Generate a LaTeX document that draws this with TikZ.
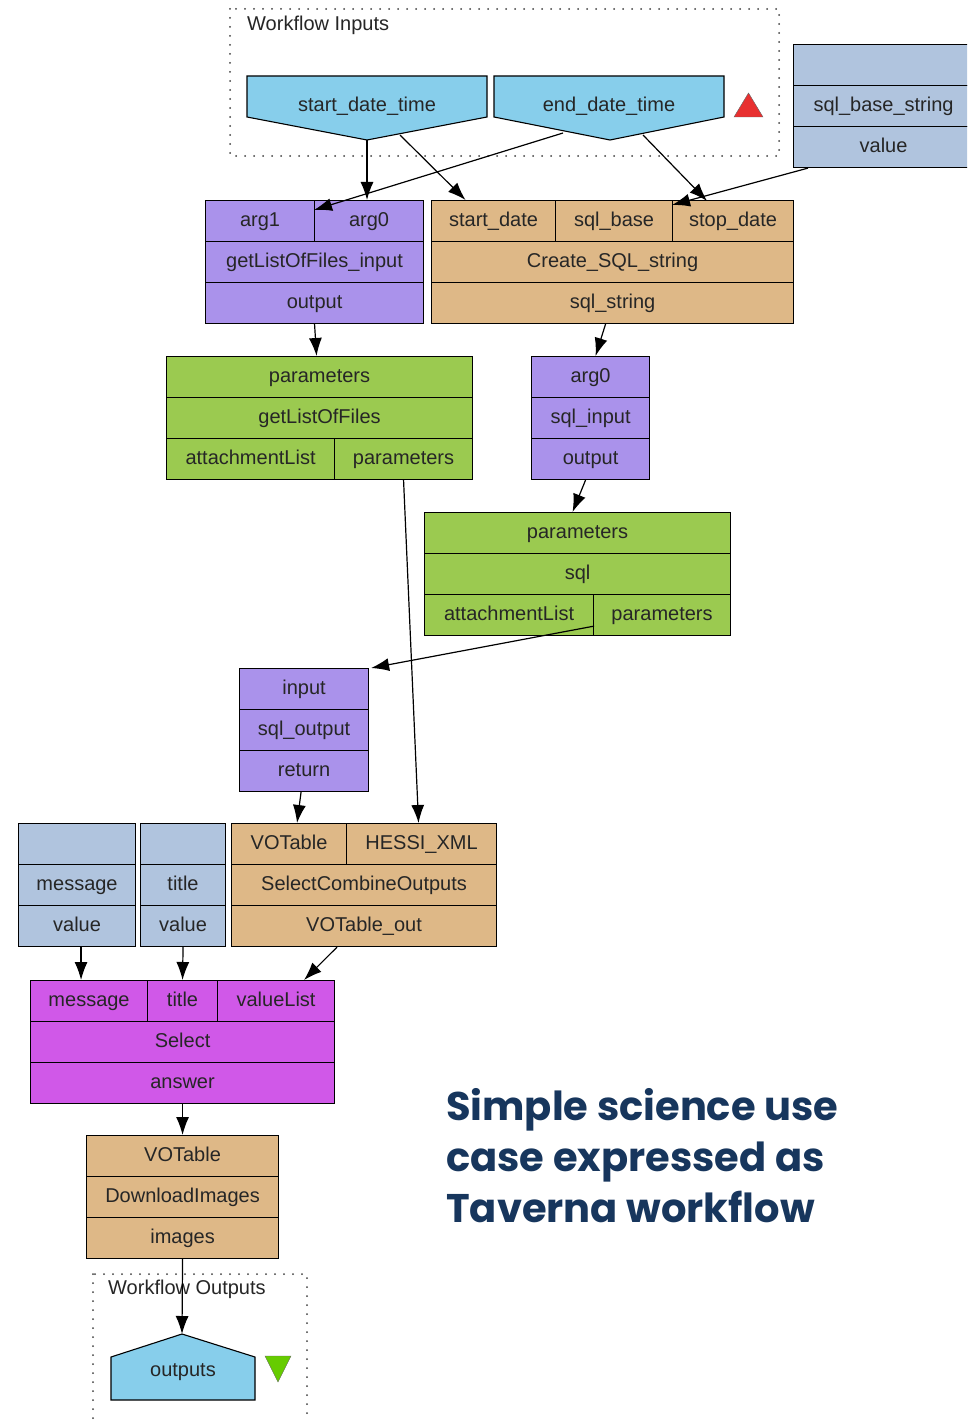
\documentclass[tikz,border=0pt]{standalone}
\usepackage{fontspec}
\setmainfont{Liberation Sans}
\newfontfamily\titlefont{Poppins}
\usetikzlibrary{positioning, arrows.meta}

\definecolor{wfblue}{RGB}{135,206,235}
\definecolor{wfpurple}{RGB}{170,146,235}
\definecolor{wftan}{RGB}{222,184,135}
\definecolor{wfgreen}{RGB}{155,202,80}
\definecolor{wfsteel}{RGB}{176,196,222}
\definecolor{wfmagenta}{RGB}{208,88,232}
\definecolor{wfred}{RGB}{232,48,48}
\definecolor{wflime}{RGB}{102,204,0}
\definecolor{wftitle}{RGB}{23,54,93}

\begin{document}
\begin{tikzpicture}[x=1pt, y=-1pt, >={Latex[length=18pt,width=13pt]},
        cell/.style       = {draw, line width=1.1pt, anchor=north west, minimum height=41pt, inner sep=0pt,
                             text height=15pt, text depth=4pt,
                             text=black!85, font=\fontsize{20}{24}\selectfont},
        tan box/.style    = {cell, fill=wftan},
        purple box/.style = {cell, fill=wfpurple},
        green box/.style  = {cell, fill=wfgreen},
        steel box/.style  = {cell, fill=wfsteel},
        select box/.style = {cell, fill=wfmagenta},
        port/.style       = {draw, line width=1.1pt, fill=wfblue},
        port label/.style = {text=black!85, font=\fontsize{20}{24}\selectfont},
        group/.style      = {draw=black!75, line width=2pt, line cap=round, dash pattern=on 0pt off 9pt},
        link/.style       = {->, line width=1.2pt}]

    \clip (0,0) rectangle (967,1420);
    \fill[white] (0,0) rectangle (967,1420);

    % workflow inputs
    \draw[group] (230,9) rectangle (779,156);
    \node[port label, anchor=west, inner sep=0pt] (wf-in) at (247,25) {Workflow Inputs};
    \draw[port] (247,76) -- (487,76) -- (487,117) -- (367,140) -- (247,117) -- cycle;
    \draw[port] (494,76) -- (724,76) -- (724,117) -- (610,140) -- (494,117) -- cycle;
    \node[port label] (sdt) at (367,106) {start\_date\_time};
    \node[port label] (edt) at (609,106) {end\_date\_time};
    \fill[wfred, draw=black!60, line width=0.4pt] (734,117) -- (763,117) -- (748.5,93) -- cycle;
    \coordinate (sdt-tip) at (367,140);
    \coordinate (sdt-r) at (400,135);
    \coordinate (edt-l) at (563,133);
    \coordinate (edt-r) at (643,135);

    % sql base string constant
    \node[steel box, minimum width=180pt] (sb-top) at (793,44) {};
    \node[steel box, minimum width=180pt] (sb-name) at (793,85) {sql\_base\_string};
    \node[steel box, minimum width=180pt] (sb-val) at (793,126) {value};

    % getListOfFiles_input
    \node[purple box, minimum width=109pt] (gi-a1) at (205,200) {arg1};
    \node[purple box, minimum width=109pt] (gi-a0) at (314,200) {arg0};
    \node[purple box, minimum width=218pt] (gi-name) at (205,241) {getListOfFiles\_input};
    \node[purple box, minimum width=218pt] (gi-out) at (205,282) {output};

    % Create_SQL_string
    \node[tan box, minimum width=124pt] (cs-sd) at (431,200) {start\_date};
    \node[tan box, minimum width=117pt] (cs-sb) at (555,200) {sql\_base};
    \node[tan box, minimum width=121pt] (cs-st) at (672,200) {stop\_date};
    \node[tan box, minimum width=362pt] (cs-name) at (431,241) {Create\_SQL\_string};
    \node[tan box, minimum width=362pt] (cs-out) at (431,282) {sql\_string};

    % getListOfFiles
    \node[green box, minimum width=306pt] (gl-par) at (166,356) {parameters};
    \node[green box, minimum width=306pt] (gl-name) at (166,397) {getListOfFiles};
    \node[green box, minimum width=168pt] (gl-att) at (166,438) {attachmentList};
    \node[green box, minimum width=138pt] (gl-out) at (334,438) {parameters};

    % sql_input
    \node[purple box, minimum width=118pt] (si-in) at (531,356) {arg0};
    \node[purple box, minimum width=118pt] (si-name) at (531,397) {sql\_input};
    \node[purple box, minimum width=118pt] (si-out) at (531,438) {output};

    % sql
    \node[green box, minimum width=306pt] (sq-par) at (424,512) {parameters};
    \node[green box, minimum width=306pt] (sq-name) at (424,553) {sql};
    \node[green box, minimum width=169pt] (sq-att) at (424,594) {attachmentList};
    \node[green box, minimum width=137pt] (sq-out) at (593,594) {parameters};

    % sql_output
    \node[purple box, minimum width=129pt] (so-in) at (239,668) {input};
    \node[purple box, minimum width=129pt] (so-name) at (239,709) {sql\_output};
    \node[purple box, minimum width=129pt] (so-ret) at (239,750) {return};

    % message and title constants
    \node[steel box, minimum width=117pt] (ms-top) at (18,823) {};
    \node[steel box, minimum width=117pt] (ms-name) at (18,864) {message};
    \node[steel box, minimum width=117pt] (ms-val) at (18,905) {value};
    \node[steel box, minimum width=85pt] (tt-top) at (140,823) {};
    \node[steel box, minimum width=85pt] (tt-name) at (140,864) {title};
    \node[steel box, minimum width=85pt] (tt-val) at (140,905) {value};

    % SelectCombineOutputs
    \node[tan box, minimum width=115pt] (sc-vo) at (231,823) {VOTable};
    \node[tan box, minimum width=150pt] (sc-hx) at (346,823) {HESSI\_XML};
    \node[tan box, minimum width=265pt] (sc-name) at (231,864) {SelectCombineOutputs};
    \node[tan box, minimum width=265pt] (sc-out) at (231,905) {VOTable\_out};

    % Select
    \node[select box, minimum width=117pt] (se-msg) at (30,980) {message};
    \node[select box, minimum width=70pt] (se-tit) at (147,980) {title};
    \node[select box, minimum width=117pt] (se-vl) at (217,980) {valueList};
    \node[select box, minimum width=304pt] (se-name) at (30,1021) {Select};
    \node[select box, minimum width=304pt] (se-ans) at (30,1062) {answer};

    % DownloadImages
    \node[tan box, minimum width=192pt] (di-in) at (86,1135) {VOTable};
    \node[tan box, minimum width=192pt] (di-name) at (86,1176) {DownloadImages};
    \node[tan box, minimum width=192pt] (di-out) at (86,1217) {images};

    % workflow outputs
    \draw[group] (93,1274) rectangle (307,1430);
    \node[port label, anchor=west, inner sep=0pt] (wf-out) at (108,1289) {Workflow Outputs};
    \draw[port] (111,1400) -- (111,1357) -- (182,1334) -- (255,1357) -- (255,1400) -- cycle;
    \node[port label] (outp) at (183,1372) {outputs};
    \fill[wflime, draw=black!60, line width=0.4pt] (265,1356) -- (291,1356) -- (278,1382) -- cycle;
    \coordinate (out-tip) at (182,1334);

    % data links
    \draw[link] (sdt-tip) -- (sdt-tip |- gi-a0.north);
    \draw[link] (sdt-r) -- ([xshift=-28pt]cs-sd.north);
    \draw[link] (edt-l) -- ([yshift=-10pt]gi-a0.north west);
    \draw[link] (edt-r) -- ([xshift=-26pt,yshift=-1pt]cs-st.north);
    \draw[link] ([xshift=15pt]sb-val.south west) -- ([yshift=-5pt]cs-st.north west);
    \draw[link] (gi-out.south) -- ([xshift=-3pt]gl-par.north);
    \draw[link] ([xshift=-7pt]cs-out.south) -- ([xshift=5pt]si-in.north);
    \draw[link] ([xshift=-5pt]si-out.south) -- ([xshift=-5pt]sq-par.north);
    \draw[link] (gl-out.south) -- ([xshift=-3pt]sc-hx.north);
    \draw[link] ([yshift=10pt]sq-att.south east) -- ([xshift=2pt]so-in.north east);
    \draw[link] ([xshift=-3pt]so-ret.south) -- ([xshift=8pt]sc-vo.north);
    \draw[link] ([xshift=4pt]ms-val.south) -- ([xshift=-8pt]se-msg.north);
    \draw[link] (tt-val.south) -- (se-tit.north);
    \draw[link] ([xshift=-27pt]sc-out.south) -- ([xshift=28pt]se-vl.north);
    \draw[link] (se-ans.south) -- (di-in.north);
    \draw[link] (di-out.south) -- (out-tip);

    % caption
    \node[anchor=north west, align=left, inner sep=0pt, text=wftitle,
          font=\titlefont\bfseries\fontsize{40}{51}\selectfont] (caption) at (446,1088)
          {Simple science use\\case expressed as\\Taverna workflow};
\end{tikzpicture}
\end{document}
